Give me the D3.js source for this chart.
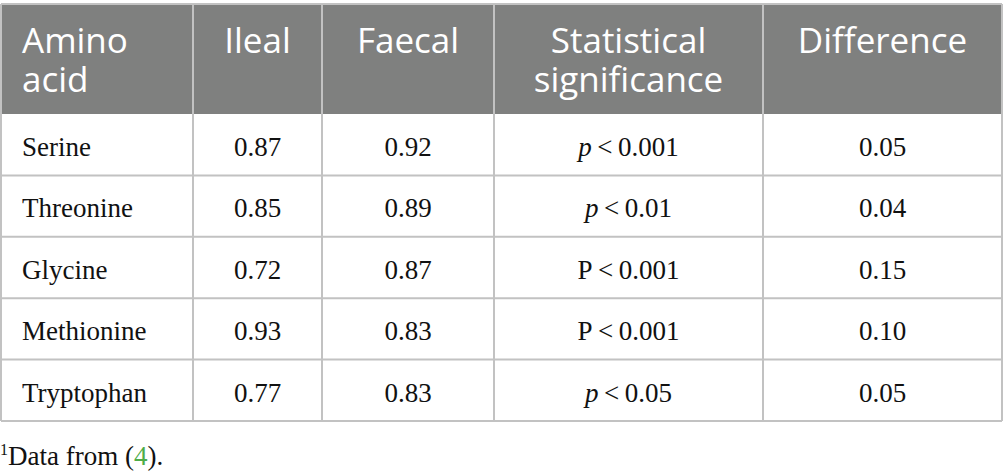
<!DOCTYPE html>
<html>
<head>
<meta charset="utf-8">
<script src="https://cdn.jsdelivr.net/npm/d3@7"></script>
<style>
  html, body { margin: 0; padding: 0; background: #fff; }
  #table { width: 1005px; height: 474px; }
</style>
</head>
<body>
<div id="table"></div>
<script>
// table content
const headers = [["Amino", "acid"], ["Ileal"], ["Faecal"], ["Statistical", "significance"], ["Difference"]];
const aminoAcids = ["Serine", "Threonine", "Glycine", "Methionine", "Tryptophan"];
const ileal = ["0.87", "0.85", "0.72", "0.93", "0.77"];
const faecal = ["0.92", "0.89", "0.87", "0.83", "0.83"];
const pSymbol = ["p", "p", "P", "P", "p"];
const pThreshold = ["0.001", "0.01", "0.001", "0.001", "0.05"];
const difference = ["0.05", "0.04", "0.15", "0.10", "0.05"];

const width = 1005;
const height = 474;

// column edges (layout)
const colEdges = [1, 193, 322, 494, 763, 1002];
const headTop = 4, headBottom = 114, tableBottom = 421;

const svg = d3.select("#table")
    .append("svg")
    .attr("width", width)
    .attr("height", height);

const y = d3.scaleBand()
    .domain(aminoAcids)
    .range([headBottom, tableBottom]);

const colCenter = i => (colEdges[i] + colEdges[i + 1]) / 2;

// header band
svg.append("rect")
    .attr("x", colEdges[0])
    .attr("y", headTop)
    .attr("width", colEdges[5] - colEdges[0])
    .attr("height", headBottom - headTop)
    .attr("fill", "#7f807f");

// header labels, one text per line
const head = svg.append("g")
    .attr("font-family", "'Open Sans', sans-serif")
    .attr("font-size", 35)
    .attr("fill", "#fff");

headers.forEach((lines, i) => {
    lines.forEach((l, j) => {
        head.append("text")
            .attr("x", i == 0 ? 22 : colCenter(i))
            .attr("y", 53 + j * 38.5)
            .attr("text-anchor", i == 0 ? "start" : "middle")
            .text(l);
    });
});

// horizontal grid lines
const gridColor = "#c2c2c2";
svg.append("g")
    .selectAll("line")
    .data(aminoAcids)
    .enter()
    .append("line")
    .attr("x1", colEdges[0])
    .attr("x2", colEdges[5])
    .attr("y1", d => y(d) + y.bandwidth())
    .attr("y2", d => y(d) + y.bandwidth())
    .attr("stroke", gridColor)
    .attr("stroke-width", 2);

// top border
svg.append("line")
    .attr("x1", colEdges[0]).attr("x2", colEdges[5])
    .attr("y1", headTop).attr("y2", headTop)
    .attr("stroke", gridColor)
    .attr("stroke-width", 2);

// vertical lines
svg.append("g")
    .selectAll("line")
    .data(colEdges)
    .enter()
    .append("line")
    .attr("x1", d => d)
    .attr("x2", d => d)
    .attr("y1", headTop)
    .attr("y2", tableBottom)
    .attr("stroke", gridColor)
    .attr("stroke-width", 2);

// body rows
const body = svg.append("g")
    .attr("font-family", "'Liberation Serif', 'Times New Roman', serif")
    .attr("font-size", 27)
    .attr("fill", "#111");

const rows = body.selectAll("g")
    .data(aminoAcids)
    .enter()
    .append("g")
    .attr("transform", d => `translate(0, ${y(d) + 42})`);

rows.append("text")
    .attr("x", 22)
    .text(d => d);

rows.append("text")
    .attr("x", colCenter(1))
    .attr("text-anchor", "middle")
    .text((d, i) => ileal[i]);

rows.append("text")
    .attr("x", colCenter(2))
    .attr("text-anchor", "middle")
    .text((d, i) => faecal[i]);

const sig = rows.append("text")
    .attr("x", colCenter(3))
    .attr("text-anchor", "middle");
sig.append("tspan")
    .attr("font-style", (d, i) => pSymbol[i] == "p" ? "italic" : "normal")
    .text((d, i) => pSymbol[i]);
sig.append("tspan")
    .text((d, i) => "\u2009<\u2009" + pThreshold[i]);

rows.append("text")
    .attr("x", colCenter(4))
    .attr("text-anchor", "middle")
    .text((d, i) => difference[i]);

// footnote
const foot = svg.append("text")
    .attr("x", 0)
    .attr("y", 465)
    .attr("font-family", "'Liberation Serif', 'Times New Roman', serif")
    .attr("font-size", 27)
    .attr("fill", "#111");
foot.append("tspan")
    .attr("font-size", 16)
    .attr("dy", -10)
    .text("1");
foot.append("tspan")
    .attr("dy", 10)
    .text("Data from (");
foot.append("tspan")
    .attr("fill", "#4eac48")
    .text("4");
foot.append("tspan")
    .text(").");
</script>
</body>
</html>
